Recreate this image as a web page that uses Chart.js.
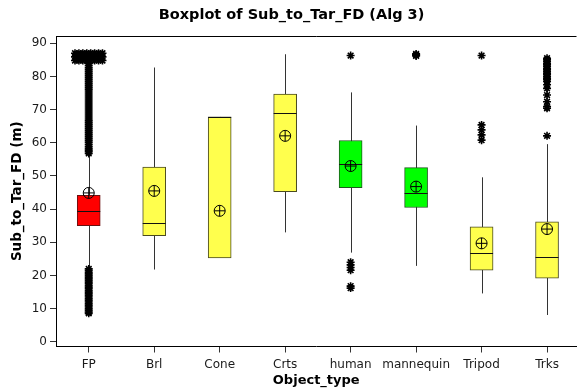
<!DOCTYPE html>
<html>
<head>
<meta charset="utf-8">
<script src="https://cdn.jsdelivr.net/npm/chart.js@4.4.1/dist/chart.umd.min.js"></script>
<style>
  body { margin: 0; background: #fff; }
  #wrap { width: 583px; height: 391px; position: relative; }
</style>
</head>
<body>
<div id="wrap"><canvas id="boxChart"></canvas></div>
<script>
// data
const categories = ['FP', 'Brl', 'Cone', 'Crts', 'human', 'mannequin', 'Tripod', 'Trks'];
const q1 = [35.0, 32.0, 25.3, 45.3, 46.5, 40.5, 21.6, 19.2];
const q3 = [44.2, 52.7, 67.8, 74.7, 60.7, 52.5, 34.7, 36.2];
const medians = [39.5, 35.9, 67.8, 69.0, 53.5, 44.8, 26.7, 25.6];
const means = [44.9, 45.5, 39.5, 62.1, 53.0, 46.8, 29.7, 34.0];
const whiskerLow = [22.0, 21.8, 25.3, 33.0, 26.9, 22.9, 14.6, 8.1];
const whiskerHigh = [57.0, 82.7, 67.8, 86.7, 75.2, 65.2, 49.6, 59.6];
const boxColors = ['#ff0000', '#ffff4d', '#ffff4d', '#ffff4d', '#00ff00', '#00ff00', '#ffff4d', '#ffff4d'];
const boxBorders = ['#6b1010', '#4a4a20', '#4a4a20', '#4a4a20', '#1d5a1d', '#1d5a1d', '#4a4a20', '#4a4a20'];
const yTicks = [0, 10, 20, 30, 40, 50, 60, 70, 80, 90];

// outliers (asterisks)
const fpHigh = [56.8, 57.3, 57.8, 58.3, 58.8, 59.4, 60.0, 60.6, 61.2, 61.8, 62.4, 63.0, 63.6, 64.2, 64.8,
  65.4, 66.0, 66.6, 67.2, 67.8, 68.4, 69.0, 69.6, 70.2, 70.8, 71.4, 72.0, 72.6, 73.2, 73.8, 74.4,
  75.0, 75.6, 76.2, 76.8, 77.4, 78.0, 78.6, 79.2, 79.8, 80.4, 81.0, 81.6, 82.2, 82.8, 83.4, 84.0];
const fpLow = [22.0, 21.5, 21.0, 20.5, 20.0, 19.5, 19.0, 18.5, 18.0, 17.5, 17.0, 16.5, 16.0, 15.5,
  15.0, 14.5, 14.0, 13.5, 13.0, 12.5, 12.0, 11.5, 11.0, 10.5, 10.0, 9.5, 9.0, 8.6];
const fpTopValues = [84.8, 85.9, 87.0];
const fpTopOffsets = [-0.21, -0.15, -0.09, -0.03, 0.03, 0.09, 0.15, 0.21];
const humanOutliers = [86.3, 24.0, 23.2, 22.4, 21.6, 16.8, 16.2];
const mannequinOutliers = [86.2, 86.5, 86.8];
const tripodOutliers = [86.3, 65.4, 63.9, 62.4, 60.8];
const trksOutliers = [85.5, 85.0, 84.5, 84.0, 83.5, 83.0, 82.5, 82.0, 81.5, 81.0, 80.5, 80.0,
  79.5, 79.0, 78.5, 77.5, 76.4, 74.4, 72.4, 70.9, 70.4, 62.1];

const outlierPoints = [];
fpHigh.concat(fpLow).forEach(v => outlierPoints.push({ x: 0, y: v }));
fpTopValues.forEach(v => fpTopOffsets.forEach(o => outlierPoints.push({ x: o, y: v })));
humanOutliers.forEach(v => outlierPoints.push({ x: 4, y: v }));
mannequinOutliers.forEach(v => outlierPoints.push({ x: 5, y: v }));
tripodOutliers.forEach(v => outlierPoints.push({ x: 6, y: v }));
trksOutliers.forEach(v => outlierPoints.push({ x: 7, y: v }));

const meanPoints = means.map((m, i) => ({ x: i, y: m }));

const FONT = "'DejaVu Sans', Verdana, sans-serif";

// whiskers behind the boxes, medians on top, frame line at the top
const boxplotParts = {
  id: 'boxplotParts',
  beforeDatasetsDraw(chart) {
    const { ctx, scales: { x, y } } = chart;
    ctx.save();
    ctx.strokeStyle = '#333';
    ctx.lineWidth = 1;
    categories.forEach((c, i) => {
      const px = Math.round(x.getPixelForValue(i)) + 0.5;
      ctx.beginPath();
      ctx.moveTo(px, y.getPixelForValue(whiskerLow[i]));
      ctx.lineTo(px, y.getPixelForValue(whiskerHigh[i]));
      ctx.stroke();
    });
    ctx.restore();
  },
  afterDatasetDraw(chart, args) {
    if (args.index !== 0) return;
    const { ctx, scales: { y } } = chart;
    const meta = chart.getDatasetMeta(0);
    ctx.save();
    ctx.strokeStyle = '#111';
    ctx.lineWidth = 1;
    medians.forEach((m, i) => {
      const bar = meta.data[i];
      const py = Math.round(y.getPixelForValue(m)) + 0.5;
      ctx.beginPath();
      ctx.moveTo(bar.x - bar.width / 2, py);
      ctx.lineTo(bar.x + bar.width / 2, py);
      ctx.stroke();
    });
    ctx.restore();
  },
  afterDraw(chart) {
    const { ctx, chartArea } = chart;
    ctx.save();
    ctx.strokeStyle = '#000';
    ctx.lineWidth = 1;
    ctx.beginPath();
    ctx.moveTo(chartArea.left, chartArea.top + 0.5);
    ctx.lineTo(chartArea.right, chartArea.top + 0.5);
    ctx.stroke();
    ctx.restore();
  }
};

new Chart(document.getElementById('boxChart'), {
  type: 'bar',
  data: {
    datasets: [
      {
        type: 'bar',
        data: categories.map((c, i) => ({ x: i, y: [q1[i], q3[i]] })),
        backgroundColor: boxColors,
        borderColor: boxBorders,
        borderWidth: 1,
        borderSkipped: false,
        barThickness: 23,
        order: 3
      },
      {
        type: 'scatter',
        data: outlierPoints,
        pointStyle: 'star',
        radius: 4,
        borderColor: '#000',
        borderWidth: 1.6,
        order: 1
      },
      {
        type: 'scatter',
        data: meanPoints,
        pointStyle: 'circle',
        radius: 5.5,
        backgroundColor: 'rgba(0,0,0,0)',
        borderColor: '#000',
        borderWidth: 1,
        order: 2
      },
      {
        type: 'scatter',
        data: meanPoints,
        pointStyle: 'cross',
        radius: 5.5,
        borderColor: '#000',
        borderWidth: 1,
        order: 2
      }
    ]
  },
  options: {
    responsive: true,
    maintainAspectRatio: false,
    animation: false,
    layout: { padding: { left: 0, right: 0, top: 0, bottom: 0 } },
    plugins: {
      legend: { display: false },
      tooltip: { enabled: false },
      title: {
        display: true,
        text: 'Boxplot of Sub_to_Tar_FD (Alg 3)',
        color: '#000',
        font: { family: FONT, size: 14.5, weight: 'bold' },
        padding: { top: 7, bottom: 11.6 }
      }
    },
    scales: {
      x: {
        type: 'linear',
        min: -0.5,
        max: 7.45,
        offset: false,
        afterBuildTicks: s => { s.ticks = categories.map((c, i) => ({ value: i })); },
        afterFit: s => { s.height = 44.5; s.paddingLeft = 0; s.paddingRight = 0; },
        ticks: {
          callback: v => categories[v],
          autoSkip: false,
          maxRotation: 0,
          padding: 5,
          color: '#1a1a1a',
          font: { family: FONT, size: 12 }
        },
        grid: { drawOnChartArea: false, offset: false, tickLength: 6, color: '#333' },
        border: { color: '#000', width: 1 },
        title: {
          display: true,
          text: 'Object_type',
          color: '#000',
          font: { family: FONT, size: 13, weight: 'bold' },
          padding: { top: 0, bottom: 3 }
        }
      },
      y: {
        min: -1.4,
        max: 92.2,
        afterBuildTicks: s => { s.ticks = yTicks.map(v => ({ value: v })); },
        afterFit: s => { s.width = 56; },
        ticks: {
          padding: 3,
          color: '#1a1a1a',
          font: { family: FONT, size: 12 }
        },
        grid: { drawOnChartArea: false, tickLength: 6, color: '#333' },
        border: { color: '#000', width: 1 },
        title: {
          display: true,
          text: 'Sub_to_Tar_FD (m)',
          color: '#000',
          font: { family: FONT, size: 13.5, weight: 'bold' },
          padding: { top: 9, bottom: 0 }
        }
      }
    }
  },
  plugins: [boxplotParts]
});
</script>
</body>
</html>
